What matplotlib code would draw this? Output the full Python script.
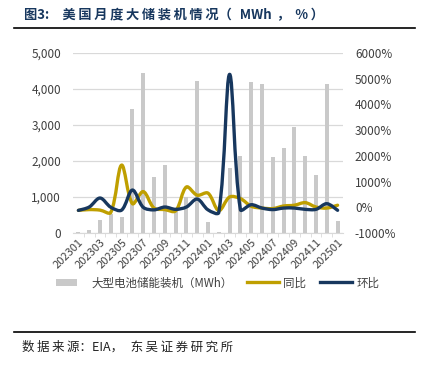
import matplotlib
matplotlib.use("Agg")
import matplotlib.pyplot as plt
from matplotlib.path import Path
from matplotlib.patches import PathPatch, Patch, Rectangle
from matplotlib.lines import Line2D
from matplotlib.legend_handler import HandlerPatch
from matplotlib.ticker import FuncFormatter, MultipleLocator
import math

plt.rcParams['font.family'] = ['Noto Sans CJK SC', 'DejaVu Sans']

# data
months = ['202301', '202302', '202303', '202304', '202305', '202306', '202307',
          '202308', '202309', '202310', '202311', '202312', '202401', '202402',
          '202403', '202404', '202405', '202406', '202407', '202408', '202409',
          '202410', '202411', '202412', '202501']
capacity = [40, 85, 360, 520, 440, 3440, 4450, 1560, 1890, 650, 990, 4230, 315, 20,
            1800, 2150, 4190, 4150, 2100, 2350, 2950, 2150, 1610, 4130, 330]
yoy = [-120, -90, -110, -200, 1640, 140, 610, -30, -90, -140, 790, 470, 550, -130,
       400, 340, 40, -30, -50, 50, 80, 180, 10, -30, 80]
mom = [-120, 10, 360, 0, -110, 670, 0, -100, 10, -80, 10, 320, -100, -200,
       5170, -90, 100, -30, -90, -30, -30, -80, -80, 140, -117]

C_BAR = '#c9c9c9'
C_YOY = '#bf9f00'
C_MOM = '#17375e'
C_TXT = '#404040'
W, H = 425, 370

# pixel size of one category / one percent, used to weight the smoothing
PX_X = 10.8
PX_Y = 180 / 7000

THIN = '\u2009'  # thin space (comes from DejaVu) to widen the CJK spacing


def spaced(s):
    return THIN.join(s)


def smooth_path(xs, ys):
    # Excel-like smoothed line: Bezier segments, tangents weighted by segment length
    n = len(xs)
    pts = list(zip(xs, ys))

    def dist(a, b):
        return math.hypot((a[0] - b[0]) * PX_X, (a[1] - b[1]) * PX_Y)

    cin, cout = [], []
    for i in range(n):
        p0 = pts[max(i - 1, 0)]
        p1 = pts[i]
        p2 = pts[min(i + 1, n - 1)]
        tx, ty = p2[0] - p0[0], p2[1] - p0[1]
        d1, d2 = dist(p0, p1), dist(p1, p2)
        s = d1 + d2 if d1 + d2 > 0 else 1
        fi, fo = d1 / s / 3, d2 / s / 3
        if i == 0 or i == n - 1:
            fi = fo = 1 / 6
        cin.append((p1[0] - tx * fi, p1[1] - ty * fi))
        cout.append((p1[0] + tx * fo, p1[1] + ty * fo))

    verts = [pts[0]]
    codes = [Path.MOVETO]
    for i in range(n - 1):
        verts += [cout[i], cin[i + 1], pts[i + 1]]
        codes += [Path.CURVE4] * 3
    return Path(verts, codes)


def bar_handle(legend, orig_handle, xdescent, ydescent, width, height, fontsize):
    return Rectangle((-xdescent, -ydescent + height / 2 - 2.6), width * 0.66, 5.2)


fig = plt.figure(figsize=(W / 100, H / 100), dpi=100)
ax = fig.add_axes([73 / W, 1 - 233 / H, (343 - 73) / W, (233 - 53) / H])
ax2 = ax.twinx()

x = list(range(len(months)))
ax.bar(x, capacity, width=0.38, color=C_BAR, zorder=2)
ax.set_ylim(0, 5000)
ax.set_xlim(-0.5, len(months) - 0.5)
ax.yaxis.set_major_locator(MultipleLocator(1000))
ax.yaxis.set_major_formatter(FuncFormatter(lambda v, p: f'{int(v):,}'))
ax.grid(axis='y', color='#d9d9d9', linewidth=0.9, zorder=0)
ax.set_axisbelow(True)

ax2.set_ylim(-1000, 6000)
ax2.yaxis.set_major_locator(MultipleLocator(1000))
ax2.yaxis.set_major_formatter(FuncFormatter(lambda v, p: f'{int(v)}%'))
ax2.add_patch(PathPatch(smooth_path(x, yoy), fill=False, edgecolor=C_YOY,
                        linewidth=2.4, capstyle='round', joinstyle='round'))
ax2.add_patch(PathPatch(smooth_path(x, mom), fill=False, edgecolor=C_MOM,
                        linewidth=2.4, capstyle='round', joinstyle='round'))

for a in (ax, ax2):
    for s in a.spines.values():
        s.set_visible(False)
ax.spines['bottom'].set_visible(True)
ax.spines['bottom'].set_color('#d9d9d9')

ax.set_xticks(x[::2])
ax.set_xticklabels(months[::2], rotation=45, ha='right', rotation_mode='anchor',
                   fontsize=8, color=C_TXT)
ax.set_xticks([i + 0.5 for i in x[:-1]], minor=True)
ax.tick_params(axis='x', which='major', length=0, pad=3)
ax.tick_params(axis='x', which='minor', length=3, color='#d9d9d9')
ax.tick_params(axis='y', length=0, labelsize=8.5, labelcolor=C_TXT, pad=8.6)
ax2.tick_params(axis='y', length=0, labelsize=8.5, labelcolor=C_TXT, pad=8.6)

handles = [Patch(facecolor=C_BAR, edgecolor='none'),
           Line2D([], [], color=C_YOY, linewidth=2.4),
           Line2D([], [], color=C_MOM, linewidth=2.4)]
fig.legend(handles, ['大型电池储能装机（MWh）', '同比', '环比'], loc='center',
           bbox_to_anchor=(217.5 / W, 1 - 283 / H), ncol=3, frameon=False,
           fontsize=8.3, handlelength=2.8, columnspacing=1.2,
           handletextpad=0.35, labelcolor=C_TXT,
           handler_map={Patch: HandlerPatch(patch_func=bar_handle)})

# title
title = ('图3:\u3000' + spaced('美国月度大储装机情况') + '（' + THIN * 3 + 'MWh'
         + THIN * 2 + '，' + THIN * 2 + '%' + THIN + '）')
fig.text(24 / W, 1 - 15 / H, title, fontsize=9.5, fontweight='bold', color=C_MOM,
         va='center', ha='left')

fig.add_artist(Line2D([14 / W, 415 / W], [1 - 28 / H, 1 - 28 / H], color='black',
                      linewidth=1.2))
fig.add_artist(Line2D([14 / W, 415 / W], [1 - 332 / H, 1 - 332 / H], color='black',
                      linewidth=1.2))

# source
source = spaced('数据来源') + '：EIA，' + THIN * 3 + spaced('东吴证券研究所')
fig.text(22 / W, 1 - 347 / H, source, fontsize=9, color='#222222',
         va='center', ha='left')

fig.savefig('out.png', dpi=100)
